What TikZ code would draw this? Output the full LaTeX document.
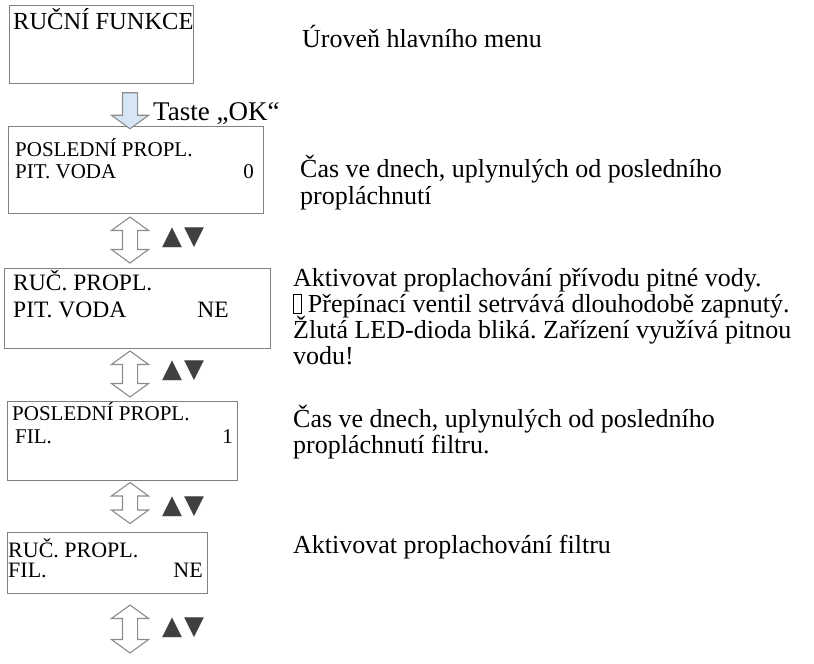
\documentclass[tikz,border=0pt]{standalone}
\usepackage{fontspec}
\setmainfont{Liberation Serif}
\newfontfamily\symfont{DejaVu Sans}
\usetikzlibrary{shapes.arrows}
\frenchspacing

\definecolor{framegray}{RGB}{128,128,128}
\definecolor{arrowgray}{RGB}{140,140,140}
\definecolor{okblue}{RGB}{214,230,245}
\definecolor{markgray}{RGB}{64,64,64}

\newcommand{\fsz}[1]{\fontsize{#1}{#1}\selectfont}
% box of a glyph the font does not have
\newcommand{\nochar}{{\setlength{\fboxsep}{0pt}\setlength{\fboxrule}{0.5pt}%
  \raisebox{-0.05em}{\fbox{\rule{0pt}{0.72em}\hspace{0.28em}}}}}

\begin{document}
\begin{tikzpicture}[x=1pt,y=-1pt,
  panel/.style={draw=framegray, line width=1.4pt, anchor=north west, inner sep=0pt},
  lcd/.style={anchor=base west, inner sep=0pt},
  val/.style={anchor=base east, inner sep=0pt},
  note/.style={anchor=base west, inner sep=0pt, font=\fsz{26}},
  okarrow/.style={single arrow, draw=arrowgray, fill=okblue, line width=1.1pt,
    shape border rotate=270, inner sep=7pt, single arrow head extend=11pt,
    single arrow tip angle=108, minimum height=36pt},
  updown/.style={double arrow, draw=arrowgray, fill=white, line width=1.1pt,
    shape border rotate=90, inner sep=7pt, double arrow head extend=11pt,
    double arrow tip angle=108, minimum height=#1},
  keys/.style={font=\symfont\fsz{26}, text=markgray, inner sep=0pt, anchor=west}]
\useasboundingbox (0,0) rectangle (814,664);

% display boxes
\node[panel, minimum width=184pt, minimum height=78pt] (menu) at (9,5) {};
\node[panel, minimum width=255pt, minimum height=87pt] (lastpw) at (8,126) {};
\node[panel, minimum width=266pt, minimum height=80pt] (manpw) at (4,268) {};
\node[panel, minimum width=230pt, minimum height=79pt] (lastfil) at (7,401) {};
\node[panel, minimum width=200pt, minimum height=61pt] (manfil) at (7,532) {};

% texts in the boxes
\node[lcd, font=\fsz{24.5}] (menu1) at (13,29) {RUČNÍ FUNKCE};
\node[lcd, font=\fsz{21}] (lastpw1) at (15,156) {POSLEDNÍ PROPL.};
\node[lcd, font=\fsz{21}] (lastpw2) at (15,178) {PIT. VODA};
\node[val, font=\fsz{21}] (lastpw3) at (254,178) {0};
\node[lcd, font=\fsz{23.5}] (manpw1) at (13,290) {RUČ. PROPL.};
\node[lcd, font=\fsz{23.5}] (manpw2) at (13,317) {PIT. VODA};
\node[val, font=\fsz{23.5}] (manpw3) at (229,317) {NE};
\node[lcd, font=\fsz{21}] (lastfil1) at (12,420) {POSLEDNÍ PROPL.};
\node[lcd, font=\fsz{21}] (lastfil2) at (15,443) {FIL.};
\node[val, font=\fsz{21}] (lastfil3) at (233,443) {1};
\node[lcd, font=\fsz{22}] (manfil1) at (8,557) {RUČ. PROPL.};
\node[lcd, font=\fsz{22}] (manfil2) at (8,577) {FIL.};
\node[val, font=\fsz{22}] (manfil3) at (203,577) {NE};

% arrows between the boxes
\node[okarrow] (ok) at (130,108) {};
\node[lcd, font=\fsz{27}] (oklabel) at (153,120) {Taste „OK“};
\node[updown=46pt] (ud1) at (130,240) {};
\node[updown=46pt] (ud2) at (130,374) {};
\node[updown=41pt] (ud3) at (130,503) {};
\node[updown=48pt] (ud4) at (130,629) {};
\node[keys] (k1) at (162,238) {▲\hspace{2pt}▼};
\node[keys] (k2) at (162,371) {▲\hspace{2pt}▼};
\node[keys] (k3) at (162,507) {▲\hspace{2pt}▼};
\node[keys] (k4) at (162,628) {▲\hspace{2pt}▼};

% notes on the right
\node[note] (n1) at (302,47) {Úroveň hlavního menu};
\node[note] (n2a) at (300,177) {Čas ve dnech, uplynulých od posledního};
\node[note] (n2b) at (300,204) {propláchnutí};
\node[note] (n3a) at (293,286) {Aktivovat proplachování přívodu pitné vody.};
\node[note] (n3b) at (293,312) {\nochar\ Přepínací ventil setrvává dlouhodobě zapnutý.};
\node[note] (n3c) at (293,338) {Žlutá LED-dioda bliká. Zařízení využívá pitnou};
\node[note] (n3d) at (293,364) {vodu!};
\node[note] (n4a) at (293,427) {Čas ve dnech, uplynulých od posledního};
\node[note] (n4b) at (293,453) {propláchnutí filtru.};
\node[note] (n5) at (293,553) {Aktivovat proplachování filtru};
\end{tikzpicture}
\end{document}
